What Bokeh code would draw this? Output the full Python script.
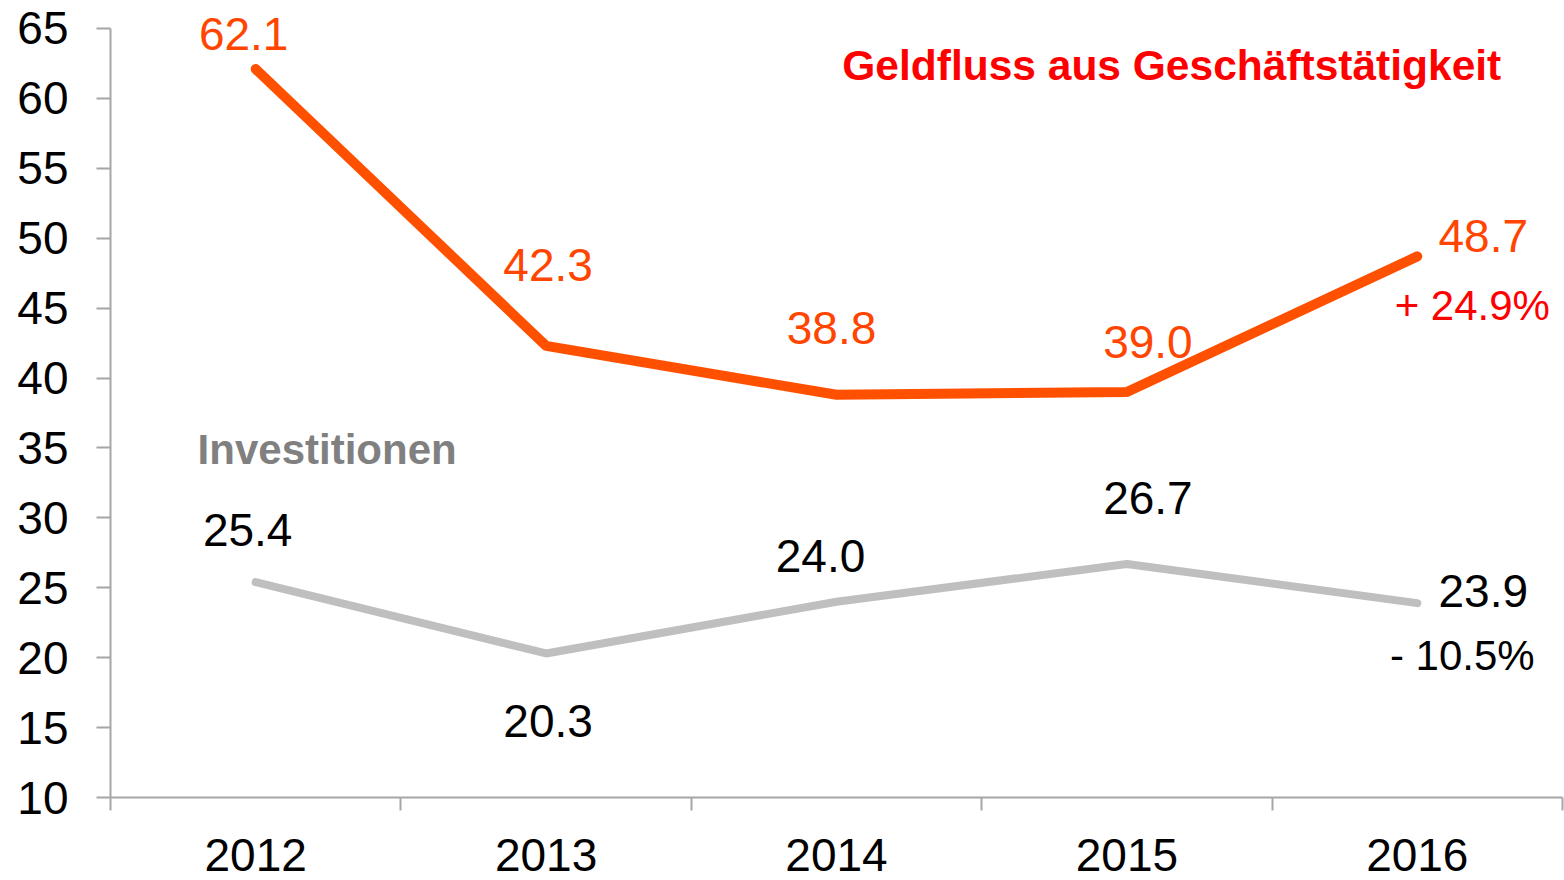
from bokeh.plotting import figure
from bokeh.models import Range1d, FixedTicker, Label, LabelSet, ColumnDataSource
from bokeh.core.properties import value
from bokeh.embed import file_html
from bokeh.resources import INLINE

# ---- data ----
years = ["2012", "2013", "2014", "2015", "2016"]
geldfluss = [62.1, 42.3, 38.8, 39.0, 48.7]
investitionen = [25.4, 20.3, 24.0, 26.7, 23.9]
y_ticks = [10, 15, 20, 25, 30, 35, 40, 45, 50, 55, 60, 65]
geld_change = "+ 24.9%"
inv_change = "- 10.5%"
geld_name = "Geldfluss aus Geschäftstätigkeit"
inv_name = "Investitionen"

# ---- label placement (pixels, up = positive) ----
geld_dx = [-12, 2, -5, 21, 66]
geld_dy = [19, 65, 51, 34, 4]
inv_dx = [-8, 2, -16, 21, 66]
inv_dy = [36, -84, 30, 50, -4]

FONT = "Liberation Sans"
ORANGE_LINE = "#ff5000"
ORANGE_TEXT = "#ff4500"
RED = "#ff0000"
GRAY_LINE = "#bfbfbf"
AXIS = "#a6a6a6"

xs = [i + 0.5 for i in range(len(years))]

p = figure(width=1564, height=880, x_range=Range1d(0, len(years)), y_range=Range1d(10, 67),
           output_backend="svg", toolbar_location=None,
           min_border_left=110, min_border_right=2, min_border_top=0, min_border_bottom=83)
p.outline_line_color = None
p.xgrid.grid_line_color = None
p.ygrid.grid_line_color = None
p.background_fill_color = "white"
p.border_fill_color = "white"

# axes
p.yaxis.ticker = FixedTicker(ticks=y_ticks)
p.yaxis.bounds = (y_ticks[0], y_ticks[-1])
p.yaxis.major_tick_out = 14
p.yaxis.major_tick_in = 0
p.yaxis.minor_tick_out = 0
p.yaxis.minor_tick_in = 0
p.yaxis.axis_line_color = AXIS
p.yaxis.axis_line_width = 2
p.yaxis.major_tick_line_color = AXIS
p.yaxis.major_tick_line_width = 2
p.yaxis.major_label_text_font = FONT
p.yaxis.major_label_text_font_size = "46px"
p.yaxis.major_label_text_color = "black"
p.yaxis.major_label_standoff = 28

p.xaxis.ticker = FixedTicker(ticks=xs, minor_ticks=list(range(len(years) + 1)))
p.xaxis.major_label_overrides = {x: y for x, y in zip(xs, years)}
p.xaxis.major_tick_out = 0
p.xaxis.major_tick_in = 0
p.xaxis.minor_tick_out = 13
p.xaxis.minor_tick_in = 0
p.xaxis.minor_tick_line_color = AXIS
p.xaxis.minor_tick_line_width = 2
p.xaxis.axis_line_color = AXIS
p.xaxis.axis_line_width = 2
p.xaxis.major_label_text_font = FONT
p.xaxis.major_label_text_font_size = "46px"
p.xaxis.major_label_text_color = "black"
p.xaxis.major_label_standoff = 28

# lines
p.line(xs, investitionen, line_color=GRAY_LINE, line_width=8, line_cap="round", line_join="round")
p.line(xs, geldfluss, line_color=ORANGE_LINE, line_width=10, line_cap="round", line_join="round")

# value labels
src_g = ColumnDataSource(dict(x=xs, y=geldfluss, t=[f"{v:.1f}" for v in geldfluss], dx=geld_dx, dy=geld_dy))
src_i = ColumnDataSource(dict(x=xs, y=investitionen, t=[f"{v:.1f}" for v in investitionen], dx=inv_dx, dy=inv_dy))
p.add_layout(LabelSet(x="x", y="y", text="t", source=src_g, x_offset="dx", y_offset="dy",
                      text_align="center", text_baseline="alphabetic",
                      text_font=value(FONT), text_font_size=value("46px"), text_color=ORANGE_TEXT))
p.add_layout(LabelSet(x="x", y="y", text="t", source=src_i, x_offset="dx", y_offset="dy",
                      text_align="center", text_baseline="alphabetic",
                      text_font=value(FONT), text_font_size=value("46px"), text_color="black"))

# change labels at last point
p.add_layout(Label(x=xs[-1], y=geldfluss[-1], x_offset=55, y_offset=-49, text=geld_change,
                   text_align="center", text_baseline="alphabetic",
                   text_font=FONT, text_font_size="42px", text_color=RED))
p.add_layout(Label(x=xs[-1], y=investitionen[-1], x_offset=45, y_offset=-52, text=inv_change,
                   text_align="center", text_baseline="alphabetic",
                   text_font=FONT, text_font_size="42px", text_color="black"))

# series names
p.add_layout(Label(x=2.52, y=61.3, y_offset=15, text=geld_name, text_align="left", text_baseline="alphabetic",
                   text_font=FONT, text_font_size="42.5px", text_font_style="bold", text_color=RED))
p.add_layout(Label(x=0.30, y=33.8, y_offset=15, text=inv_name, text_align="left", text_baseline="alphabetic",
                   text_font=FONT, text_font_size="42px", text_font_style="bold", text_color="#808080"))

open("out.html", "w").write(file_html(p, INLINE))
